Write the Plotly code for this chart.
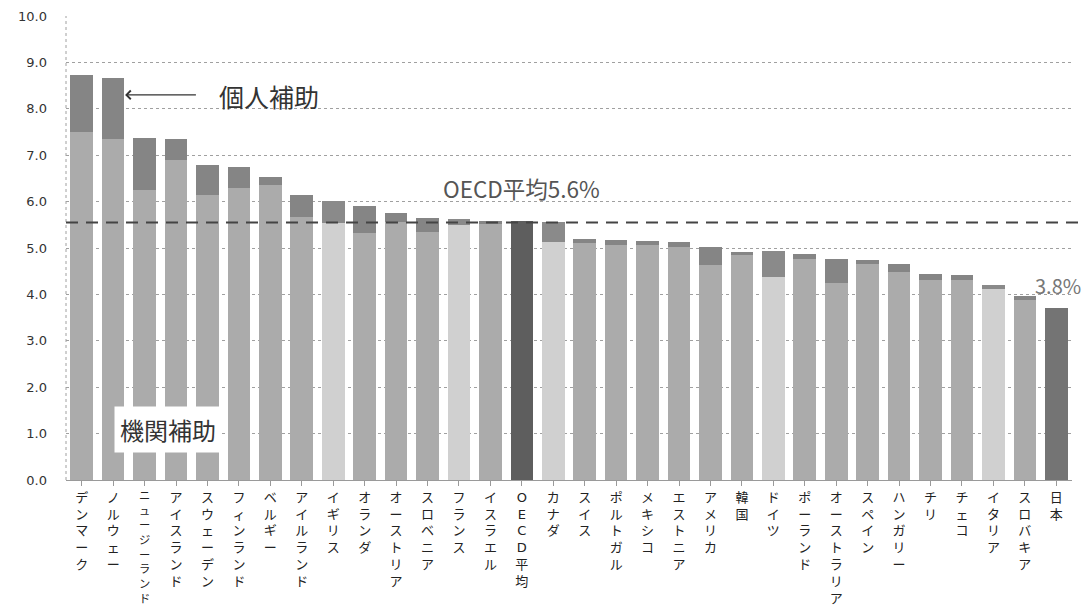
import plotly.graph_objects as go

countries = ["デンマーク", "ノルウェー", "ニュージーランド", "アイスランド", "スウェーデン",
             "フィンランド", "ベルギー", "アイルランド", "イギリス", "オランダ", "オーストリア",
             "スロベニア", "フランス", "イスラエル", "OECD平均", "カナダ", "スイス", "ポルトガル",
             "メキシコ", "エストニア", "アメリカ", "韓国", "ドイツ", "ポーランド", "オーストラリア",
             "スペイン", "ハンガリー", "チリ", "チェコ", "イタリア", "スロバキア", "日本"]

institutional = [7.50, 7.35, 6.25, 6.90, 6.14, 6.30, 6.35, 5.67, 5.54, 5.32, 5.55,
                 5.35, 5.50, 5.52, 5.10, 5.13, 5.10, 5.07, 5.07, 5.03, 4.63, 4.85,
                 4.38, 4.77, 4.24, 4.66, 4.48, 4.30, 4.30, 4.12, 3.88, 3.70]
individual = [1.23, 1.31, 1.12, 0.45, 0.65, 0.44, 0.18, 0.47, 0.47, 0.58, 0.20,
              0.30, 0.12, 0.06, 0.48, 0.43, 0.10, 0.10, 0.08, 0.10, 0.39, 0.06,
              0.55, 0.10, 0.52, 0.08, 0.17, 0.14, 0.12, 0.08, 0.09, 0.00]

y_ticks = [0, 1, 2, 3, 4, 5, 6, 7, 8, 9, 10]
y_tick_text = ["0.0", "1.0", "2.0", "3.0", "4.0", "5.0", "6.0", "7.0", "8.0", "9.0", "10.0"]
oecd_avg_line = 5.55

light = {"イギリス", "フランス", "カナダ", "ドイツ", "イタリア"}
inst_colors, ind_colors = [], []
for c in countries:
    if c == "OECD平均":
        inst_colors.append("#5e5e5e"); ind_colors.append("#5e5e5e")
    elif c == "日本":
        inst_colors.append("#747474"); ind_colors.append("#6e6e6e")
    elif c in light:
        inst_colors.append("#d0d0d0"); ind_colors.append("#8a8a8a")
    else:
        inst_colors.append("#ababab"); ind_colors.append("#858585")

LABEL_FONT = "DejaVu Sans, Noto Sans CJK JP"
long_label = "ニュージーランド"  # too tall for the margin at full size: drawn as annotation, smaller
labels = ["" if c == long_label else "<br>".join(list(c)) for c in countries]
xi = list(range(len(countries)))

fig = go.Figure()
fig.add_trace(go.Bar(x=xi, y=institutional, marker=dict(color=inst_colors, line=dict(width=0)),
                     name="機関補助", hoverinfo="y"))
fig.add_trace(go.Bar(x=xi, y=individual, marker=dict(color=ind_colors, line=dict(width=0)),
                     name="個人補助", hoverinfo="y"))

fig.update_layout(
    width=1088, height=611,
    margin=dict(l=66, r=16, t=16, b=131),
    barmode="stack", bargap=0.28,
    plot_bgcolor="white", paper_bgcolor="white",
    showlegend=False,
    font=dict(family="Noto Sans CJK JP", color="#222"),
)
fig.update_xaxes(
    tickmode="array", tickvals=xi, ticktext=labels,
    range=[-0.5, len(countries) - 0.5], automargin=False,
    tickangle=0, tickfont=dict(size=13, color="#222", family=LABEL_FONT),
    showline=True, linecolor="#9a9a9a", linewidth=1,
    ticks="outside", ticklen=5, tickcolor="#9a9a9a",
    showgrid=False, zeroline=False,
)
fig.update_yaxes(
    range=[0, 10], tickmode="array", tickvals=y_ticks, ticktext=y_tick_text, automargin=False,
    tickfont=dict(size=13, color="#333", family="DejaVu Sans"),
    ticklabelstandoff=18,
    showgrid=True, gridcolor="#a0a0a0", griddash="dot", gridwidth=1,
    zeroline=False, showline=False,
)

# long category label, slightly smaller so it fits
fig.add_annotation(x=countries.index(long_label), y=0, xref="x", yref="paper",
                   text="<br>".join(list(long_label)), showarrow=False,
                   font=dict(size=11.3, color="#222", family=LABEL_FONT),
                   xanchor="center", yanchor="top", yshift=-9, borderpad=0)

# left dotted axis line
fig.add_shape(type="line", xref="paper", yref="y", x0=0, x1=0, y0=0, y1=10,
              line=dict(color="#a0a0a0", width=1, dash="dot"))
# OECD average dashed line
fig.add_shape(type="line", xref="paper", yref="y", x0=0, x1=1.013, y0=oecd_avg_line, y1=oecd_avg_line,
              line=dict(color="#444", width=2, dash="12px,8px"))

fig.add_annotation(x=14.0, y=6.29, xref="x", yref="y", text="OECD平均5.6%", showarrow=False,
                   font=dict(size=22.5, color="#555"), xanchor="center", yanchor="middle")
fig.add_annotation(x=4.3, y=8.28, xref="x", yref="y", text="個人補助", showarrow=False,
                   font=dict(size=25, color="#333"), xanchor="left", yanchor="middle")
fig.add_annotation(x=1.38, y=8.3, xref="x", yref="y", ax=3.68, ay=8.3, axref="x", ayref="y",
                   text="", showarrow=True, arrowhead=4, arrowsize=1.4, arrowwidth=1.2,
                   arrowcolor="#333")
fig.add_annotation(x=2.75, y=1.08, xref="x", yref="y", text="機関補助", showarrow=False,
                   font=dict(size=24, color="#333"), bgcolor="white", borderpad=5,
                   xanchor="center", yanchor="middle")
fig.add_annotation(x=31.05, y=4.2, xref="x", yref="y", text="3.8%", showarrow=False,
                   font=dict(size=20, color="#777"), xanchor="center", yanchor="middle")

fig.write_html("out.html")
